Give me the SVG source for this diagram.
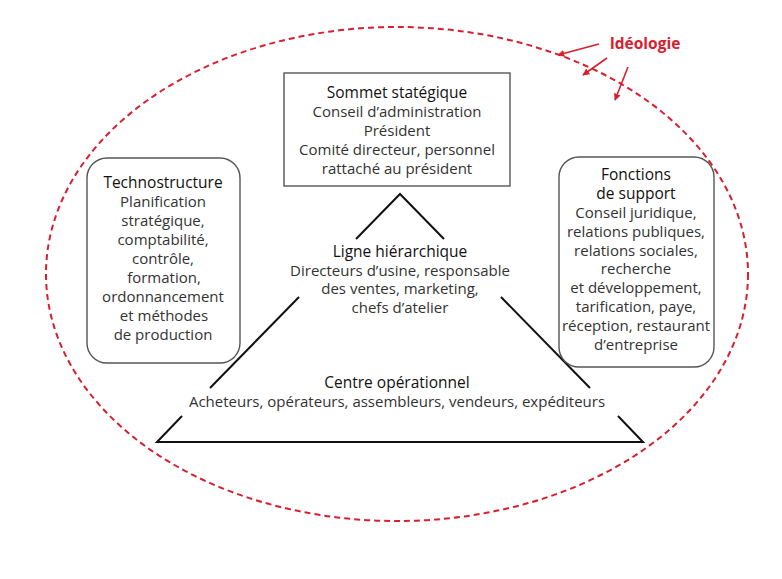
<svg xmlns="http://www.w3.org/2000/svg" width="782" height="579" viewBox="0 0 782 579">
<style>
text{font-family:"Open Sans","Noto Sans","Liberation Sans",sans-serif;text-anchor:middle}
.t{font-size:15.5px;fill:#111;font-weight:500}
.b{font-size:15px;fill:#333}
.box{fill:#fff;stroke:#555;stroke-width:1.4}
.tri{stroke:#111;stroke-width:2;fill:none}
.red{stroke:#d6202f;stroke-width:1.6;fill:none}
</style>
<defs>
<marker id="ah" viewBox="0 0 10 10" refX="9" refY="5" markerWidth="7" markerHeight="7" orient="auto" markerUnits="userSpaceOnUse">
<path d="M0,0 L10,5 L0,10 z" fill="#d6202f"/>
</marker>
</defs>
<g id="ideologie">
<ellipse cx="397" cy="274" rx="351" ry="247" fill="none" stroke="#d6202f" stroke-width="2" stroke-dasharray="6,4"/>
<text x="645" y="49" style="font-size:15.5px;font-weight:700;fill:#d6202f">Idéologie</text>
</g>
<g id="connectors">
<line class="red" x1="599" y1="44" x2="558" y2="55" marker-end="url(#ah)"/>
<line class="red" x1="607" y1="58" x2="583" y2="75" marker-end="url(#ah)"/>
<line class="red" x1="628" y1="67" x2="615" y2="100" marker-end="url(#ah)"/>
<polyline class="tri" points="356,239 400,194 444,239"/>
<line class="tri" x1="299" y1="297" x2="210" y2="388"/>
<line class="tri" x1="501" y1="297" x2="590" y2="388"/>
<polyline class="tri" points="182,416 157,442 643,442 618,416"/>
</g>
<g id="sommet">
<rect class="box" x="284" y="73" width="226" height="113"/>
<text class="t" x="397" y="98">Sommet statégique</text>
<text class="b" x="397" y="117">Conseil d’administration</text>
<text class="b" x="397" y="136">Président</text>
<text class="b" x="397" y="155">Comité directeur, personnel</text>
<text class="b" x="397" y="174">rattaché au président</text>
</g>
<g id="technostructure">
<rect class="box" x="87" y="158" width="153" height="205" rx="20"/>
<text class="t" x="163" y="188">Technostructure</text>
<text class="b" x="163" y="207">Planification</text>
<text class="b" x="163" y="226">stratégique,</text>
<text class="b" x="163" y="245">comptabilité,</text>
<text class="b" x="163" y="264">contrôle,</text>
<text class="b" x="164" y="283">formation,</text>
<text class="b" x="163" y="302">ordonnancement</text>
<text class="b" x="164" y="321">et méthodes</text>
<text class="b" x="163" y="340">de production</text>
</g>
<g id="support">
<rect class="box" x="559" y="157" width="155" height="210" rx="20"/>
<text class="t" x="636" y="180">Fonctions</text>
<text class="t" x="636" y="199">de support</text>
<text class="b" x="636" y="218">Conseil juridique,</text>
<text class="b" x="636" y="237">relations publiques,</text>
<text class="b" x="636" y="256">relations sociales,</text>
<text class="b" x="636" y="274">recherche</text>
<text class="b" x="636" y="293">et développement,</text>
<text class="b" x="636" y="312">tarification, paye,</text>
<text class="b" x="636" y="331">réception, restaurant</text>
<text class="b" x="636" y="350">d’entreprise</text>
</g>
<g id="ligne">
<text class="t" x="400" y="257">Ligne hiérarchique</text>
<text class="b" x="400" y="276">Directeurs d’usine, responsable</text>
<text class="b" x="400" y="294">des ventes, marketing,</text>
<text class="b" x="400" y="313">chefs d’atelier</text>
</g>
<g id="centre">
<text class="t" x="397" y="388">Centre opérationnel</text>
<text class="b" x="397" y="407">Acheteurs, opérateurs, assembleurs, vendeurs, expéditeurs</text>
</g>
</svg>
